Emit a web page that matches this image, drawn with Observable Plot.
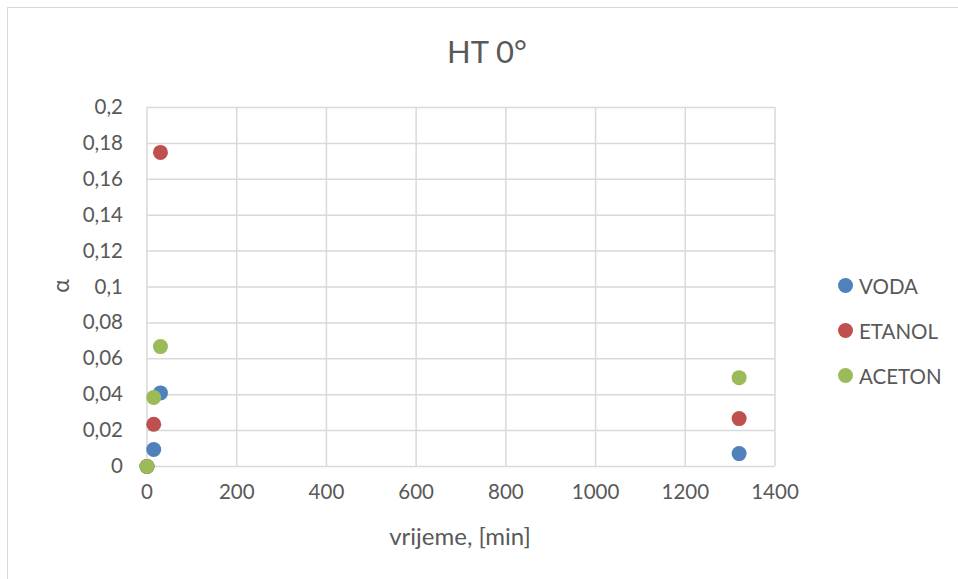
<!DOCTYPE html>
<html><head><meta charset="utf-8">
<script src="https://cdn.jsdelivr.net/npm/d3@7"></script>
<script src="https://cdn.jsdelivr.net/npm/@observablehq/plot@0.6"></script>
<style>
body{margin:0;background:#fff;font-family:Lato,"Open Sans",sans-serif;}
#wrap{position:relative;width:958px;height:579px;overflow:hidden;}
#frame{position:absolute;left:7px;top:7px;width:980px;height:600px;border:1.5px solid #d9d9d9;box-sizing:border-box;}
#title{position:absolute;left:0;width:974px;top:32px;text-align:center;font-size:31px;color:#595959;}
#legend{position:absolute;left:838px;top:263px;font-size:20.5px;color:#595959;}
#legend div{height:45px;display:flex;align-items:center;}
#legend span.m{display:inline-block;width:15px;height:15px;border-radius:50%;margin-right:6px;}
#xlabel{position:absolute;left:310px;width:300px;top:521px;text-align:center;font-size:24px;color:#595959;}
#ylabel{position:absolute;left:48px;top:272px;width:24px;text-align:center;font-size:23px;color:#595959;transform:rotate(-90deg);}
#chart{position:absolute;left:0;top:0;}
</style></head>
<body>
<div id="wrap"><div id="frame"></div><div id="chart"></div><div id="title">HT 0°</div><div id="legend"></div>
<div id="xlabel">vrijeme, [min]</div><div id="ylabel">α</div></div>
<script>
const series = ["VODA", "ETANOL", "ACETON"];
const colors = ["#4F81BD", "#C0504D", "#9BBB59"];
const time = [0, 15, 30, 1320];
const voda = [0, 0.0095, 0.041, 0.0072];
const etanol = [0, 0.0235, 0.175, 0.0267];
const aceton = [0, 0.0385, 0.0668, 0.0495];
const xTicks = [0, 200, 400, 600, 800, 1000, 1200, 1400];
const yTicks = [0, 0.02, 0.04, 0.06, 0.08, 0.1, 0.12, 0.14, 0.16, 0.18, 0.2];

const vals = [voda, etanol, aceton];
const data = [];
series.forEach((s, i) => time.forEach((t, j) => data.push({series: s, t, a: vals[i][j]})));
const fmt = d => String(d).replace(".", ",");

const plot = Plot.plot({
  width: 958, height: 579,
  marginLeft: 146.5, marginRight: 183.5, marginTop: 107, marginBottom: 113,
  style: {fontFamily: "Lato, 'Open Sans', sans-serif", fontSize: "20.5px", color: "#595959", background: "transparent"},
  x: {domain: [0, 1400], ticks: xTicks, tickFormat: fmt, tickSize: 0, tickPadding: 18, label: null},
  y: {domain: [0, 0.2], ticks: yTicks, tickFormat: fmt, tickSize: 0, tickPadding: 24, label: null},
  color: {domain: series, range: colors},
  marks: [
    Plot.ruleX(xTicks, {stroke: "#d9d9d9", strokeWidth: 1.5, strokeOpacity: 1}),
    Plot.ruleY(yTicks, {stroke: "#d9d9d9", strokeWidth: 1.5, strokeOpacity: 1}),
    Plot.dot(data, {x: "t", y: "a", fill: "series", r: 7.5})
  ]
});
document.getElementById("chart").appendChild(plot);
const lg = document.getElementById("legend");
series.forEach((s, i) => {
  const d = document.createElement("div");
  d.innerHTML = `<span class="m" style="background:${colors[i]}"></span>${s}`;
  lg.appendChild(d);
});
</script>
</body></html>
